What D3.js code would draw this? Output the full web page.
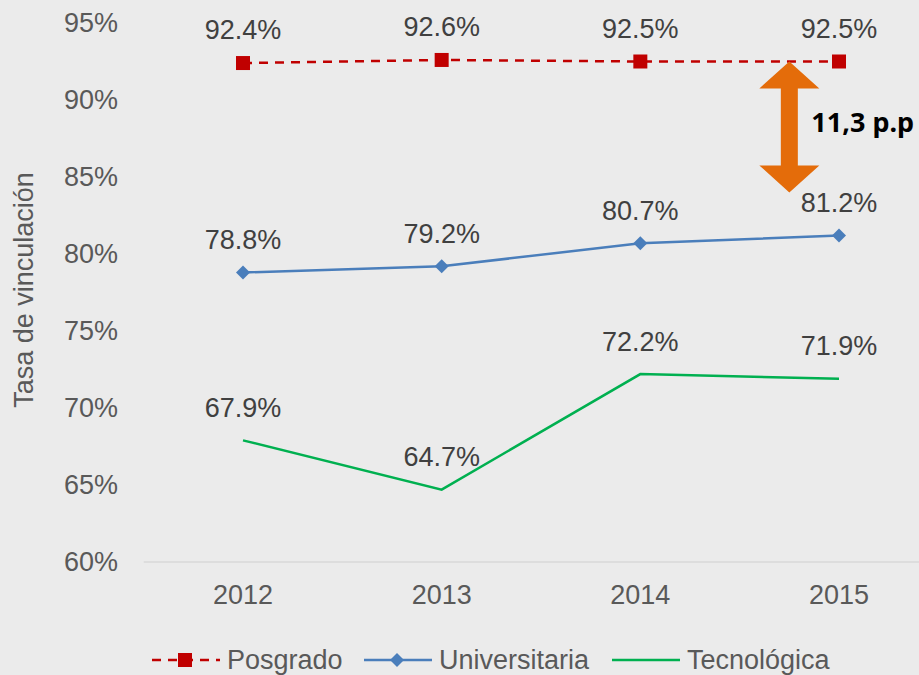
<!DOCTYPE html>
<html lang="es">
<head>
<meta charset="UTF-8">
<title>Tasa de vinculación</title>
<style>
  html, body { margin: 0; padding: 0; background: #ebebeb; }
  svg { display: block; font-family: "Liberation Sans", Arial, sans-serif; }
</style>
</head>
<body>
<svg id="chart" width="919" height="675"></svg>
<script src="https://d3js.org/d3.v7.min.js"></script>
<script>
// data
var years = ["2012", "2013", "2014", "2015"];
var posgrado = [92.4, 92.6, 92.5, 92.5];
var universitaria = [78.8, 79.2, 80.7, 81.2];
var tecnologica = [67.9, 64.7, 72.2, 71.9];
var yTicks = [60, 65, 70, 75, 80, 85, 90, 95];
// the arrow marking the gap between posgrado and universitaria
var gapLabel = "11,3 p.p";
var gapRange = [92.5, 84.0];

var svg = d3.select("#chart"),
    width = +svg.attr("width"),
    height = +svg.attr("height");

svg.append("rect").attr("width", width).attr("height", height).attr("fill", "#ebebeb");

var x = d3.scalePoint().domain(years).range([243, 839]);
var y = d3.scaleLinear().domain([60, 95]).range([562, 23]);
var step = x.step();
var fs = 27;

// bottom axis line
svg.append("line")
    .attr("x1", x("2012") - step / 2).attr("x2", x("2015") + step / 2)
    .attr("y1", y(60)).attr("y2", y(60))
    .attr("stroke", "#d9d9d9").attr("stroke-width", 1.5);

// y tick labels
svg.append("g").selectAll("text")
    .data(yTicks).join("text")
    .attr("x", 118).attr("y", function(d) { return y(d); })
    .attr("dy", "0.35em").attr("text-anchor", "end")
    .attr("font-size", fs).attr("fill", "#595959")
    .text(function(d) { return d + "%"; });

// x tick labels
svg.append("g").selectAll("text")
    .data(years).join("text")
    .attr("x", function(d) { return x(d); }).attr("y", 595)
    .attr("dy", "0.35em").attr("text-anchor", "middle")
    .attr("font-size", fs).attr("fill", "#595959")
    .text(function(d) { return d; });

// y axis title
svg.append("text")
    .attr("transform", "translate(33,290) rotate(-90)")
    .attr("text-anchor", "middle")
    .attr("font-size", fs).attr("fill", "#595959")
    .text("Tasa de vinculación");

var series = [
    { name: "Posgrado", values: posgrado, color: "#c00000", dash: "9,7", marker: "square" },
    { name: "Universitaria", values: universitaria, color: "#4a7ebb", dash: null, marker: "diamond" },
    { name: "Tecnológica", values: tecnologica, color: "#00b050", dash: null, marker: null }
];

var line = d3.line()
    .x(function(d, i) { return x(years[i]); })
    .y(function(d) { return y(d); });

function drawMarker(g, type, color) {
    if (type == "square") {
        g.append("rect").attr("x", -7).attr("y", -7).attr("width", 14).attr("height", 14)
            .attr("fill", color);
    } else if (type == "diamond") {
        g.append("path").attr("d", "M0,-7L7,0L0,7L-7,0Z").attr("fill", color);
    }
}

series.forEach(function(s) {
    svg.append("path")
        .datum(s.values)
        .attr("d", line)
        .attr("fill", "none")
        .attr("stroke", s.color)
        .attr("stroke-width", 2.5)
        .attr("stroke-dasharray", s.dash);

    s.values.forEach(function(v, i) {
        var g = svg.append("g").attr("transform", "translate(" + x(years[i]) + "," + y(v) + ")");
        drawMarker(g, s.marker, s.color);
        svg.append("text")
            .attr("x", x(years[i])).attr("y", y(v) - 33)
            .attr("dy", "0.35em").attr("text-anchor", "middle")
            .attr("font-size", fs).attr("fill", "#404040")
            .text(v.toFixed(1) + "%");
    });
});

// double-headed orange arrow
var ax = x("2015") - step / 4,
    yTop = y(gapRange[0]), yBot = y(gapRange[1]),
    hw = 30, hh = 27, sw = 8.5;
svg.append("path")
    .attr("d", "M" + ax + "," + yTop +
        "L" + (ax + hw) + "," + (yTop + hh) +
        "L" + (ax + sw) + "," + (yTop + hh) +
        "L" + (ax + sw) + "," + (yBot - hh) +
        "L" + (ax + hw) + "," + (yBot - hh) +
        "L" + ax + "," + yBot +
        "L" + (ax - hw) + "," + (yBot - hh) +
        "L" + (ax - sw) + "," + (yBot - hh) +
        "L" + (ax - sw) + "," + (yTop + hh) +
        "L" + (ax - hw) + "," + (yTop + hh) + "Z")
    .attr("fill", "#e46c0a");

svg.append("text")
    .attr("x", ax + 22).attr("y", (yTop + yBot) / 2 - 4)
    .attr("dy", "0.35em")
    .attr("font-family", "'Noto Sans', 'Open Sans', sans-serif")
    .attr("font-weight", "bold").attr("font-size", 27).attr("fill", "#000")
    .text(gapLabel);

// legend
var legendItems = [
    { s: series[0], x0: 152 },
    { s: series[1], x0: 364 },
    { s: series[2], x0: 612 }
];
legendItems.forEach(function(item) {
    var ly = 660, s = item.s;
    svg.append("line")
        .attr("x1", item.x0).attr("x2", item.x0 + 68)
        .attr("y1", ly).attr("y2", ly)
        .attr("stroke", s.color).attr("stroke-width", 2.5)
        .attr("stroke-dasharray", s.dash);
    var g = svg.append("g").attr("transform", "translate(" + (item.x0 + 33) + "," + ly + ")");
    drawMarker(g, s.marker, s.color);
    svg.append("text")
        .attr("x", item.x0 + 75).attr("y", ly)
        .attr("dy", "0.35em")
        .attr("font-size", fs).attr("fill", "#595959")
        .text(s.name);
});
</script>
</body>
</html>
